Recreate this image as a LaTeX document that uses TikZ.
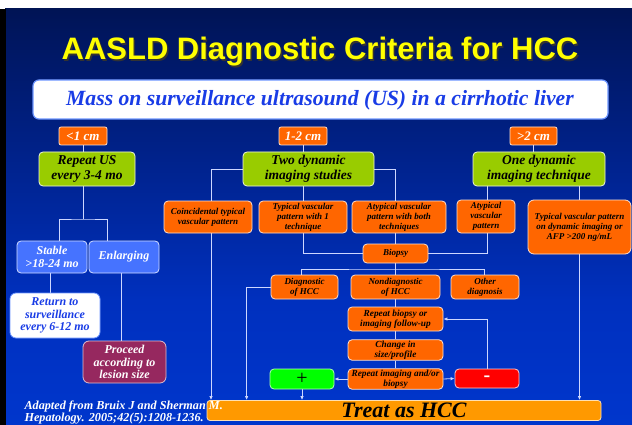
\documentclass[tikz,border=0pt]{standalone}
\usepackage{fontspec}
\setmainfont{Liberation Serif}
\newfontfamily\arialf{Liberation Sans}
\usetikzlibrary{arrows.meta,calc}
\definecolor{bgbot}{RGB}{0,64,228}
\definecolor{bgmid}{RGB}{0,48,190}
\definecolor{bgtop}{RGB}{0,22,95}
\definecolor{orng}{RGB}{255,102,0}
\definecolor{obord}{RGB}{255,225,205}
\definecolor{grn}{RGB}{153,204,0}
\definecolor{bluebx}{RGB}{70,115,255}
\definecolor{linec}{RGB}{205,215,255}
\definecolor{ttlyel}{RGB}{255,255,0}
\definecolor{txtblue}{RGB}{25,60,230}
\definecolor{maroon}{RGB}{150,40,95}
\definecolor{treatc}{RGB}{255,153,0}
\pgfdeclareverticalshading{bgsh}{100bp}{color(0bp)=(bgbot); color(40bp)=(bgmid); color(72bp)=(bgtop); color(100bp)=(black)}
\pgfdeclarelayer{back}
\pgfdeclarelayer{lines}
\pgfsetlayers{back,lines,main}
\tikzset{
  base/.style={rounded corners=4pt, inner sep=1pt, align=center, line width=0.8pt},
  og/.style={base, fill=orng, draw=obord, text=black, font=\bfseries\itshape\fontsize{9}{10}\selectfont},
  ogm/.style={og, font=\bfseries\itshape\fontsize{9.3}{10}\selectfont},
  gb/.style={base, fill=grn, draw=white!85!grn, text=black, font=\bfseries\itshape\fontsize{13.5}{15}\selectfont},
  sz/.style={base, rounded corners=2pt, fill=orng, draw=obord, text=white, font=\bfseries\itshape\fontsize{13}{14}\selectfont},
  bb/.style={base, fill=bluebx, draw=white!75!bluebx, text=white, font=\bfseries\itshape\fontsize{12}{13}\selectfont},
  ln/.style={draw=linec, line width=0.8pt},
  arr/.style={ln, -{Latex[length=4pt,width=3.5pt]}},
}
\begin{document}
\begin{tikzpicture}[x=1pt,y=-1pt]
\useasboundingbox (0,0) rectangle (632,425);
\begin{pgfonlayer}{back}
\fill[white] (0,0) rectangle (632,425);
\shade[shading=bgsh] (5,9) rectangle (632,425);
\fill[black] (0,9) rectangle (6,425);
\end{pgfonlayer}
% title
\node[anchor=base, text=black!80, font=\arialf\bfseries\fontsize{31}{32}\selectfont] (ttlsh) at (321.5,61.5) {AASLD Diagnostic Criteria for HCC};
\node[anchor=base, text=ttlyel, font=\arialf\bfseries\fontsize{31}{32}\selectfont] (ttl) at (320,60) {AASLD Diagnostic Criteria for HCC};
% mass box
\node[base, rounded corners=6pt, fill=white, draw={rgb,255:red,110;green,150;blue,255}, line width=1.2pt, minimum width=575pt, minimum height=39pt] (mass) at (320.5,99.5) {};
\node[anchor=base, text=txtblue, font=\bfseries\itshape\fontsize{21.7}{22}\selectfont] (masst) at (320,106) {Mass on surveillance ultrasound (US) in a cirrhotic liver};
% size labels
\node[sz, minimum width=48pt, minimum height=18pt] (lt1) at (83,136) {<1 cm};
\node[sz, minimum width=48pt, minimum height=18pt] (lt2) at (303,136) {1-2 cm};
\node[sz, minimum width=47pt, minimum height=18pt] (gt2) at (533.5,136) {>2 cm};
% green
\node[gb, minimum width=96pt, minimum height=34pt] (rus) at (87,169) {Repeat US\\every 3-4 mo};
\node[gb, minimum width=131pt, minimum height=34pt] (two) at (308.5,169) {Two dynamic\\imaging studies};
\node[gb, minimum width=132pt, minimum height=34pt] (one) at (539,169) {One dynamic\\imaging technique};
% orange row
\node[og, minimum width=88pt, minimum height=32pt] (coin) at (208,217) {Coincidental typical\\vascular pattern};
\node[og, minimum width=88pt, minimum height=32pt] (typ1) at (303,217) {Typical vascular\\pattern with 1\\technique};
\node[og, minimum width=94pt, minimum height=32pt] (atyb) at (399,217) {Atypical vascular\\pattern with both\\techniques};
\node[og, minimum width=58pt, minimum height=33pt] (aty) at (486,216.5) {Atypical\\vascular\\pattern};
\node[og, rounded corners=6pt, minimum width=103pt, minimum height=54pt] (typd) at (579.5,227) {Typical vascular pattern\\on dynamic imaging or\\AFP >200 ng/mL};
\node[og, minimum width=65pt, minimum height=19pt] (bio) at (395.5,253.5) {Biopsy};
\node[og, minimum width=67pt, minimum height=24pt] (diag) at (304.5,287) {Diagnostic\\of HCC};
\node[og, minimum width=89pt, minimum height=24pt] (nond) at (395.5,287) {Nondiagnostic\\of HCC};
\node[og, minimum width=68pt, minimum height=24pt] (oth) at (485,287) {Other\\diagnosis};
\node[ogm, minimum width=95pt, minimum height=24pt] (rbio) at (395.5,319) {Repeat biopsy or\\imaging follow-up};
\node[ogm, minimum width=95pt, minimum height=20pt] (chg) at (395.5,350) {Change in\\size/profile};
\node[ogm, minimum width=95pt, minimum height=20pt] (rimg) at (395.5,379) {Repeat imaging and/or\\biopsy};
\node[base, fill=red, draw=white!80!red, minimum width=64pt, minimum height=19pt, text=white, font=\bfseries\fontsize{20}{20}\selectfont] (minus) at (487,378.5) {-};
\node[base, fill={rgb,255:red,0;green,255;blue,0}, draw=white!70!green, minimum width=64pt, minimum height=20pt, text=black, font=\fontsize{20}{20}\selectfont] (plus) at (302,379) {+};
\node[base, rounded corners=3pt, fill=treatc, draw=white!70!treatc, minimum width=394pt, minimum height=20pt, text=black, font=\bfseries\itshape\fontsize{22}{22}\selectfont] (treat) at (404,410.5) {Treat as HCC};
% left column
\node[bb, minimum width=70pt, minimum height=32pt] (stab) at (52,257) {Stable\\>18-24 mo};
\node[bb, minimum width=70pt, minimum height=32pt] (enl) at (124,257) {Enlarging};
\node[base, rounded corners=6pt, fill=white, draw={rgb,255:red,110;green,150;blue,255}, minimum width=90pt, minimum height=45pt, text=txtblue, font=\bfseries\itshape\fontsize{12}{12.5}\selectfont] (ret) at (55,315.5) {Return to\\surveillance\\every 6-12 mo};
\node[base, rounded corners=6pt, fill=maroon, draw=white!70!maroon, minimum width=83pt, minimum height=42pt, text=white, font=\bfseries\itshape\fontsize{12}{12.5}\selectfont] (proc) at (124.5,362) {Proceed\\according to\\lesion size};
% citation
\node[anchor=base west, align=left, text=white, font=\bfseries\itshape\fontsize{12.2}{12.5}\selectfont] (cite) at (21,421.5) {Adapted from Bruix J and Sherman M.\\Hepatology. 2005;42(5):1208-1236.};
% connectors
\begin{pgfonlayer}{lines}
\coordinate (s1) at (83,219);
\draw[ln] (lt1.south) -- (lt1.south |- rus.north);
\draw[ln] (lt1.south |- rus.south) -- (s1);
\draw[ln] ($(stab.north)+(7,0)$) |- (s1) -| ($(enl.north)+(-17,0)$);
\draw[ln] ($(stab.south)+(-2,0)$) -- ($(stab.south |- ret.north)+(-2,0)$);
\draw[ln] ($(enl.south)+(-3,0)$) -- ($(enl.south |- proc.north)+(-3,0)$);
\draw[ln] (lt2.south) -- (lt2.south |- two.north);
\draw[ln] (gt2.south) -- (gt2.south |- one.north);
\draw[arr] (two.west) -| ($(coin.center |- treat.north)+(3,0)$);
\draw[ln] (two.east) -| (bio.north |- atyb.north);
\draw[ln] (bio.north |- atyb.south) -- (bio.north);
\draw[ln] (typ1.north |- two.south) -- (typ1.north);
\draw[ln] (typ1.south) |- (bio.west);
\draw[ln] ($(aty.north |- one.south)+(1,0)$) -- ($(aty.north)+(1,0)$);
\draw[ln] ($(aty.south)+(1,0)$) |- (bio.east);
\draw[ln] (typd.north |- one.south) -- (typd.north);
\draw[arr] (typd.south) -- (typd.south |- treat.north);
\draw[ln] (bio.south) -- (nond.north);
\draw[ln] ($(diag.north)+(-3,0)$) |- ($(bio.south)!0.5!(nond.north)$) -| ($(oth.north)+(-1,0)$);
\draw[arr] (diag.west) -| ([xshift=-24pt]diag.west |- treat.north);
\draw[ln] (nond.south) -- (rbio.north);
\draw[ln] (rbio.south) -- (chg.north);
\draw[ln] (chg.south) -- (rimg.north);
\draw[arr] (rimg.west) -- (plus.east);
\draw[arr] (rimg.east) -- (minus.west);
\draw[arr] (minus.north) |- (rbio.east);
\draw[arr] (plus.south) -- (plus.south |- treat.north);
\end{pgfonlayer}
\end{tikzpicture}
\end{document}
